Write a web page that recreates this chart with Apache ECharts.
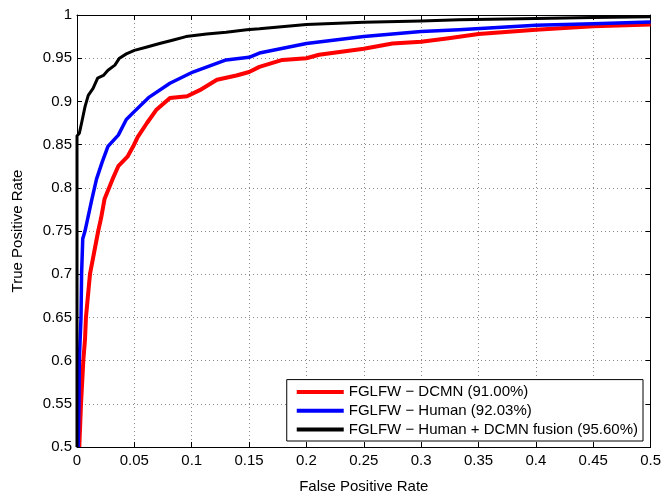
<!DOCTYPE html>
<html>
<head>
<meta charset="utf-8">
<script src="https://cdn.jsdelivr.net/npm/echarts@6/dist/echarts.min.js"></script>
<style>html,body{margin:0;padding:0;background:#fff}#c{width:664px;height:499px}</style>
</head>
<body>
<div id="c"></div>
<script>
var seriesNames = ['FGLFW \u2212 DCMN (91.00%)', 'FGLFW \u2212 Human (92.03%)', 'FGLFW \u2212 Human + DCMN fusion (95.60%)'];
var seriesColors = ['#ff0000', '#0000ff', '#000000'];

var redFPR = [0.002, 0.0035, 0.0055, 0.007, 0.0078, 0.0113, 0.0185, 0.021, 0.024, 0.031, 0.036, 0.044, 0.049, 0.053, 0.061, 0.069, 0.081, 0.096, 0.107, 0.122, 0.139, 0.150, 0.159, 0.179, 0.2, 0.211, 0.25, 0.275, 0.3, 0.324, 0.35, 0.4, 0.45, 0.5];
var redTPR = [0.5, 0.55, 0.6, 0.625, 0.65, 0.7, 0.75, 0.765, 0.787, 0.81, 0.825, 0.836, 0.848, 0.859, 0.875, 0.89, 0.904, 0.906, 0.913, 0.925, 0.930, 0.934, 0.940, 0.948, 0.950, 0.954, 0.961, 0.967, 0.969, 0.973, 0.978, 0.983, 0.987, 0.989];

var blueFPR = [0.001, 0.0017, 0.002, 0.0035, 0.004, 0.005, 0.007, 0.013, 0.017, 0.022, 0.027, 0.036, 0.043, 0.049, 0.063, 0.081, 0.101, 0.130, 0.150, 0.159, 0.2, 0.25, 0.3, 0.333, 0.4, 0.45, 0.5];
var blueTPR = [0.5, 0.55, 0.6, 0.65, 0.7, 0.741, 0.75, 0.787, 0.81, 0.83, 0.848, 0.861, 0.879, 0.887, 0.905, 0.921, 0.934, 0.948, 0.951, 0.956, 0.967, 0.975, 0.981, 0.983, 0.988, 0.990, 0.992];

var blackFPR = [0, 0, 0.002, 0.004, 0.007, 0.0098, 0.014, 0.018, 0.023, 0.027, 0.033, 0.037, 0.043, 0.050, 0.061, 0.072, 0.084, 0.095, 0.113, 0.130, 0.148, 0.159, 0.2, 0.25, 0.3, 0.333, 0.4, 0.45, 0.5];
var blackTPR = [0.5, 0.86, 0.863, 0.875, 0.894, 0.907, 0.915, 0.927, 0.930, 0.936, 0.942, 0.950, 0.955, 0.959, 0.963, 0.967, 0.971, 0.975, 0.978, 0.980, 0.983, 0.984, 0.989, 0.9915, 0.993, 0.9945, 0.996, 0.997, 0.998];

var xTickLabels = ['0', '0.05', '0.1', '0.15', '0.2', '0.25', '0.3', '0.35', '0.4', '0.45', '0.5'];
var yTickLabels = ['0.5', '0.55', '0.6', '0.65', '0.7', '0.75', '0.8', '0.85', '0.9', '0.95', '1'];

function zip(a, b) { return a.map(function (v, i) { return [v, b[i]]; }); }
var allX = [redFPR, blueFPR, blackFPR];
var allY = [redTPR, blueTPR, blackTPR];
var widths = [4, 3.5, 3];

var FONT = "'Liberation Sans', Arial, sans-serif";
var FS = 15;
var chart = echarts.init(document.getElementById('c'), null, { renderer: 'canvas' });

function xFmt(v) { var i = Math.round(v / 0.05); return xTickLabels[i] || ''; }
function yFmt(v) { var i = Math.round((v - 0.5) / 0.05); return yTickLabels[i] || ''; }

var gridLine = { show: true, lineStyle: { color: '#8a8a8a', type: [1, 3], width: 1 } };

var option = {
  animation: false,
  backgroundColor: '#ffffff',
  textStyle: { fontFamily: FONT },
  grid: { left: 77, right: 12, top: 15, bottom: 49, containLabel: false },
  legend: {
    orient: 'vertical',
    right: 21,
    bottom: 58,
    icon: 'rect',
    itemWidth: 47,
    itemHeight: 4,
    itemGap: 3.7,
    padding: [5, 5, 4, 10],
    borderColor: '#000',
    borderWidth: 1,
    borderRadius: 0,
    backgroundColor: '#fff',
    textStyle: { fontFamily: FONT, fontSize: FS, lineHeight: 15, color: '#000' },
    data: seriesNames
  },
  xAxis: [{
    type: 'value', min: 0, max: 0.5, interval: 0.05, position: 'bottom',
    name: 'False Positive Rate', nameLocation: 'middle', nameGap: 32,
    nameTextStyle: { fontFamily: FONT, fontSize: FS, color: '#000' },
    axisLine: { show: true, onZero: false, lineStyle: { color: '#000', width: 1 } },
    axisTick: { show: true, inside: true, length: 5, lineStyle: { color: '#000' } },
    axisLabel: { formatter: xFmt, color: '#000', fontSize: FS, fontFamily: FONT, margin: 6 },
    splitLine: gridLine
  }, {
    type: 'value', min: 0, max: 0.5, interval: 0.05, position: 'top',
    axisLine: { show: true, onZero: false, lineStyle: { color: '#000', width: 1 } },
    axisTick: { show: true, inside: true, length: 5, lineStyle: { color: '#000' } },
    axisLabel: { show: false }, splitLine: { show: false }
  }],
  yAxis: [{
    type: 'value', min: 0.5, max: 1, interval: 0.05, position: 'left',
    name: 'True Positive Rate', nameLocation: 'middle', nameGap: 52, nameRotate: 90,
    nameTextStyle: { fontFamily: FONT, fontSize: FS, color: '#000' },
    axisLine: { show: true, onZero: false, lineStyle: { color: '#000', width: 1 } },
    axisTick: { show: true, inside: true, length: 5, lineStyle: { color: '#000' } },
    axisLabel: { formatter: yFmt, color: '#000', fontSize: FS, fontFamily: FONT, margin: 5 },
    splitLine: gridLine
  }, {
    type: 'value', min: 0.5, max: 1, interval: 0.05, position: 'right',
    axisLine: { show: true, onZero: false, lineStyle: { color: '#000', width: 1 } },
    axisTick: { show: true, inside: true, length: 5, lineStyle: { color: '#000' } },
    axisLabel: { show: false }, splitLine: { show: false }
  }],
  series: seriesNames.map(function (n, i) {
    return {
      name: n, type: 'line', xAxisIndex: 0, yAxisIndex: 0,
      data: zip(allX[i], allY[i]),
      showSymbol: false, symbol: 'none', clip: false, smooth: false,
      color: seriesColors[i],
      lineStyle: { color: seriesColors[i], width: widths[i], join: 'round' },
      itemStyle: { color: seriesColors[i] },
      z: 3 + i
    };
  })
};
chart.setOption(option);
</script>
</body>
</html>
